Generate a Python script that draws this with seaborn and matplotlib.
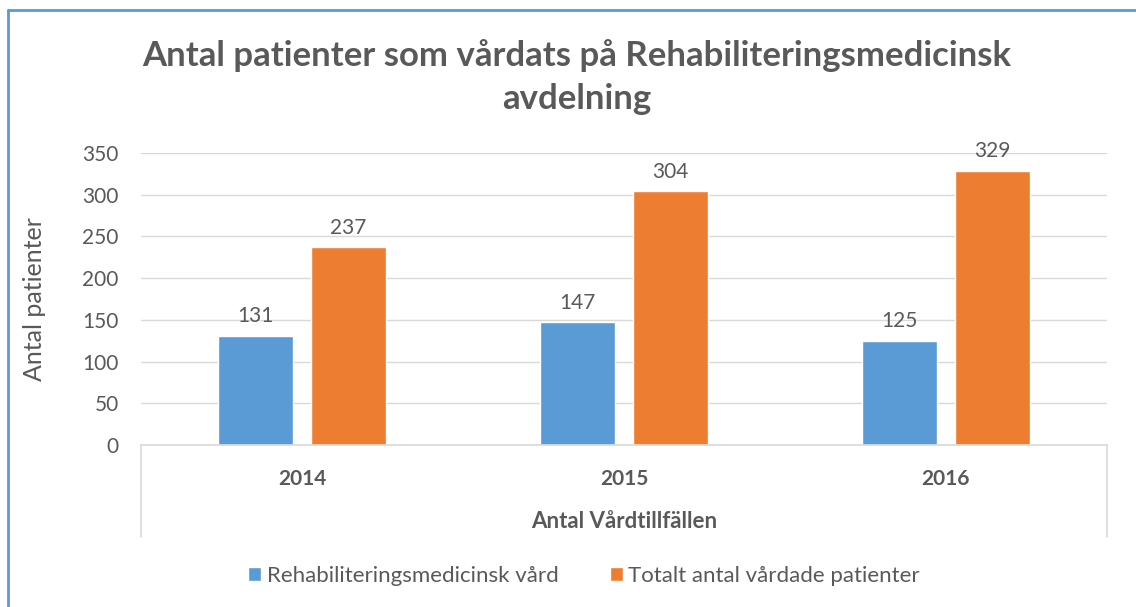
import matplotlib
matplotlib.use("Agg")
import matplotlib.pyplot as plt
import seaborn as sns
import pandas as pd
from matplotlib.lines import Line2D

# data
years = ["2014", "2015", "2016"]
rehab_vard = [131, 147, 125]
totalt_vardade = [237, 304, 329]
series_names = ["Rehabiliteringsmedicinsk vård", "Totalt antal vårdade patienter"]
yticks = [0, 50, 100, 150, 200, 250, 300, 350]

GRAY = "#595959"
GRID = "#d9d9d9"
colors = ["#5B9BD5", "#ED7D31"]

df = pd.DataFrame({
    "year": years * 2,
    "serie": [series_names[0]] * 3 + [series_names[1]] * 3,
    "antal": rehab_vard + totalt_vardade,
})

sns.set_style("white")
plt.rcParams["font.family"] = ["Lato", "DejaVu Sans"]

fig = plt.figure(figsize=(11.36, 6.07), dpi=100)
ax = fig.add_axes([141 / 1136, 1 - 445 / 607, (1107 - 141) / 1136, (445 - 153) / 607])

sns.barplot(data=df, x="year", y="antal", hue="serie", palette=colors,
            width=0.578, gap=0.19, ax=ax, legend=True, saturation=1)

for cont in ax.containers:
    ax.bar_label(cont, padding=7, fontsize=15, color=GRAY)

ax.set_ylim(0, 350)
ax.set_yticks(yticks)
ax.yaxis.grid(True, color=GRID, linewidth=1)
ax.set_axisbelow(True)
for s in ["top", "right", "left"]:
    ax.spines[s].set_visible(False)
ax.spines["bottom"].set_color(GRID)
ax.spines["bottom"].set_linewidth(1.2)
ax.tick_params(axis="y", length=0, pad=16, labelsize=15, labelcolor=GRAY)
ax.tick_params(axis="x", length=0, pad=17, labelsize=15, labelcolor=GRAY)
for lbl in ax.get_xticklabels():
    lbl.set_fontweight("bold")

ax.set_ylabel("Antal patienter", fontsize=18, color=GRAY, labelpad=26)
ax.set_xlabel("Antal Vårdtillfällen", fontsize=16, color=GRAY, fontweight="bold", labelpad=16)

# category axis box lines going down below the plot
for xp in [141, 1107]:
    fig.add_artist(Line2D([xp / 1136, xp / 1136], [1 - 445 / 607, 1 - 537 / 607],
                          color=GRID, linewidth=1.2))

# outer chart frame (only top and left visible)
fig.add_artist(Line2D([8 / 1136, 1], [1 - 10 / 607, 1 - 10 / 607], color="#5B9BD5", linewidth=2))
fig.add_artist(Line2D([8 / 1136, 8 / 1136], [0, 1 - 10 / 607], color="#5B9BD5", linewidth=2))

fig.text(0.508, 1 - 77 / 607, "Antal patienter som vårdats på Rehabiliteringsmedicinsk\navdelning",
         ha="center", va="center", fontsize=25, fontweight="bold", color=GRAY, linespacing=1.45)

handles, labels = ax.get_legend_handles_labels()
ax.get_legend().remove()
fig.legend(handles, labels, loc="center", bbox_to_anchor=(0.514, 1 - 576 / 607), ncol=2,
           frameon=False, fontsize=16, labelcolor=GRAY, handlelength=0.6, handleheight=0.6,
           handletextpad=0.25, columnspacing=2.3)

fig.savefig("out.png", dpi=100, facecolor="white")
